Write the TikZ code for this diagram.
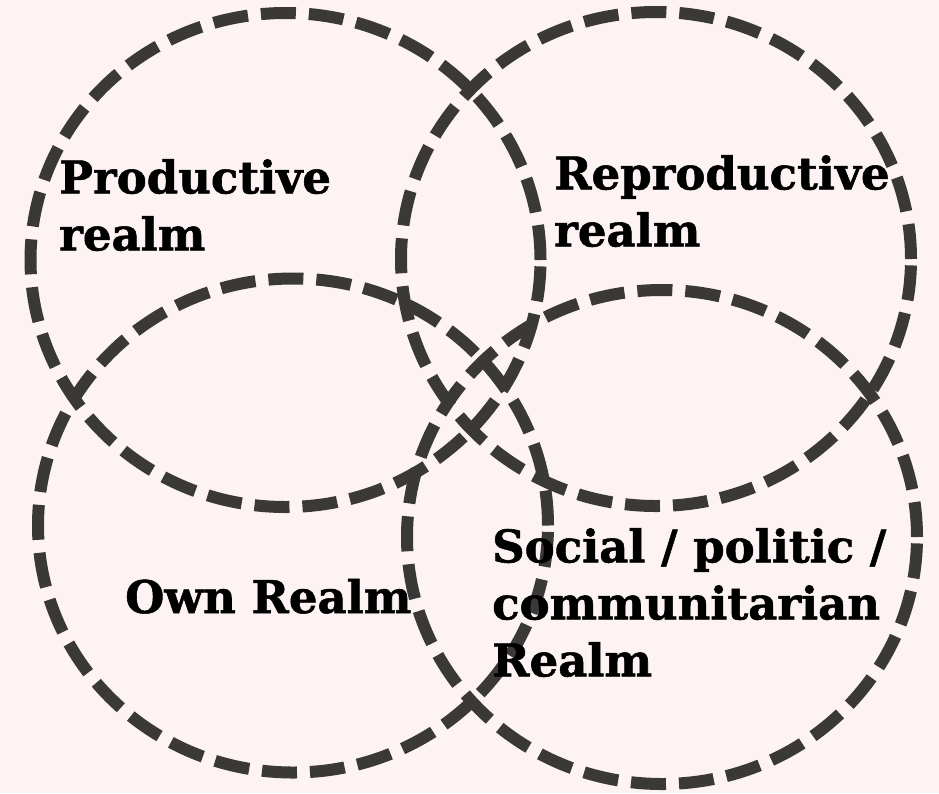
\documentclass[tikz,border=0pt]{standalone}
\usepackage{fontspec}
\setmainfont{DejaVu Serif}[BoldFeatures={FakeBold=1.2}]
\usepackage{tikz}
\usetikzlibrary{shapes.geometric, positioning}
\definecolor{bgpink}{HTML}{FDF3F2}
\definecolor{ringgray}{HTML}{3B3937}

\begin{document}
\begin{tikzpicture}[x=1pt, y=-1pt,
	realm/.style={draw=ringgray, ellipse, line width=12pt, dash pattern=on 35pt off 13pt, minimum width=510pt, minimum height=494pt, inner sep=0pt},
	tag/.style={font=\fontsize{45}{57}\selectfont\bfseries, align=left, inner sep=0pt, text=black}]
			\fill[bgpink] (0,0) rectangle (939,793);
			\useasboundingbox (0,0) rectangle (939,793);
			\node[realm] (productive)   at (285.5,260) {};
			\node[realm] (reproductive) at (656,259)   {};
			\node[realm] (own)          at (293,525.5) {};
			\node[realm] (social)       at (662,537)   {};
			\node[tag, anchor=north west] (productivetext)   at (59,159)  {Productive\\realm};
			\node[tag, anchor=north west] (reproductivetext) at (554,155) {Reproductive\\realm};
			\node[tag, anchor=base west]  (owntext)          at (125,613) {Own Realm};
			\node[tag, anchor=north west] (socialtext)       at (492,528) {Social / politic /\\communitarian\\Realm};
		\end{tikzpicture}
\end{document}
